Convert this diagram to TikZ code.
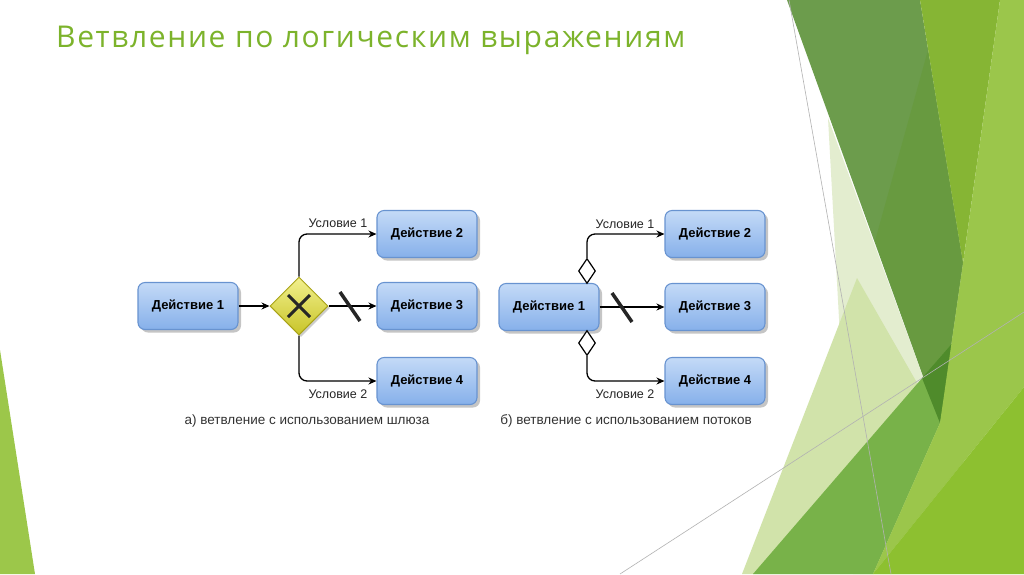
\documentclass[tikz,border=0pt]{standalone}
\usepackage{fontspec}
\setmainfont{Liberation Sans}
\newfontfamily\titlefont[LetterSpace=5.5]{Open Sans}
\usetikzlibrary{shapes.geometric,shadows,arrows.meta}

\definecolor{titlegreen}{HTML}{7CB32B}
\definecolor{boxtop}{HTML}{C4DAF7}
\definecolor{boxbot}{HTML}{86B0EA}
\definecolor{boxline}{HTML}{6893D0}
\definecolor{gwtop}{HTML}{F2F08E}
\definecolor{gwbot}{HTML}{C8C428}
\definecolor{gwline}{HTML}{A9A318}
\definecolor{palegreen}{HTML}{E3EDCF}
\definecolor{lightgreen}{HTML}{D1E3AA}
\definecolor{olivegreen}{HTML}{6C9C4C}
\definecolor{olivegreen2}{HTML}{689A40}
\definecolor{midgreen}{HTML}{78B249}
\definecolor{deepgreen}{HTML}{4F8B2B}
\definecolor{brightgreen}{HTML}{86B534}
\definecolor{stripgreen}{HTML}{9BC64B}
\definecolor{yellowgreen}{HTML}{8DC030}
\definecolor{leftgreen}{HTML}{9CC74A}

\tikzset{
  action/.style={rectangle, rounded corners=7pt, draw=boxline, line width=1.1pt,
    top color=boxtop, bottom color=boxbot, minimum width=100pt, minimum height=47pt,
    font=\bfseries\fontsize{13}{15}\selectfont,
    drop shadow={shadow xshift=3pt, shadow yshift=-3pt, fill=black!50, opacity=0.45}},
  gateway/.style={diamond, draw=gwline, line width=1pt, top color=gwtop, bottom color=gwbot,
    inner sep=0pt, minimum width=58pt, minimum height=58pt,
    drop shadow={shadow xshift=2pt, shadow yshift=-2pt, fill=black!50, opacity=0.4}},
  condmark/.style={diamond, draw=black, fill=white, line width=1.2pt, inner sep=0pt,
    minimum width=17pt, minimum height=25pt},
  flow/.style={line width=1.3pt, rounded corners=8pt, -{Stealth[length=8pt,width=7pt]}},
  slashmark/.style={line width=3.5pt, black!85},
  cond/.style={font=\fontsize{12.5}{14}\selectfont, text=black!85},
  caption/.style={font=\fontsize{13.5}{15}\selectfont, text=black!80},
  thinline/.style={black!30, line width=0.6pt}
}

\begin{document}
\begin{tikzpicture}[x=1pt, y=-1pt]
\useasboundingbox (0,0) rectangle (1024,574);
\fill[white] (0,0) rectangle (1024,574);

% Background facets
\fill[leftgreen] (0,350) -- (35,574) -- (0,574) -- cycle;
\fill[palegreen] (828,118) -- (940,423) -- (910,574) -- (853,574) -- cycle;
\fill[lightgreen] (857,278) -- (940,423) -- (1024,574) -- (742,574) -- cycle;
\fill[olivegreen] (787,0) -- (920,0) -- (963,263) -- (940,423) -- cycle;
\fill[olivegreen2] (928,50) -- (963,263) -- (940,423) -- (875,241) -- cycle;
\fill[midgreen] (753,574) -- (955,340) -- (940,423) -- (873,574) -- cycle;
\fill[deepgreen] (922,378) -- (955,340) -- (940,423) -- cycle;
\fill[brightgreen] (920,0) -- (1000,0) -- (963,263) -- cycle;
\fill[stripgreen] (1000,0) -- (1024,0) -- (1024,387) -- (873,574) -- (940,423) -- (963,263) -- cycle;
\fill[yellowgreen] (873,574) -- (1024,387) -- (1024,574) -- cycle;
\draw[thinline] (789,0) -- (891,574);
\draw[thinline] (620,574) -- (1024,312);

% Title
\node[anchor=base west, inner sep=0pt, text=titlegreen, font=\titlefont\fontsize{30}{34}\selectfont]
  (title) at (56,47) {Ветвление по логическим выражениям};

% a) branching with a gateway
\node[action] (a1) at (188,306) {Действие 1};
\node[gateway] (g) at (299,306) {};
\draw[line width=3pt, black!85] (g.center) +(-11,-11) -- +(11,11);
\draw[line width=3pt, black!85] (g.center) +(-11,11) -- +(11,-11);
\node[action] (a2) at (427,234) {Действие 2};
\node[action] (a3) at (427,306) {Действие 3};
\node[action] (a4) at (427,381) {Действие 4};

\draw[flow] (a1) -- (g);
\draw[flow] (g.north) |- (a2);
\draw[flow] (g) -- (a3);
\draw[flow] (g.south) |- (a4);
\draw[slashmark] (350,306) +(-10,-14) -- +(10,15);

\node[cond] (ca1) at (338,223) {Условие 1};
\node[cond] (ca2) at (338,394) {Условие 2};
\node[caption] (capa) at (307,421) {а) ветвление с использованием шлюза};

% b) branching with conditional flows
\node[action] (b1) at (549,307) {Действие 1};
\node[action] (b2) at (715,234) {Действие 2};
\node[action] (b3) at (715,307) {Действие 3};
\node[action] (b4) at (715,381) {Действие 4};
\node[condmark] (c1) at (587,271) {};
\node[condmark] (c2) at (587,343) {};

\draw[flow] (c1.north) |- (b2);
\draw[flow] (b1) -- (b3);
\draw[flow] (c2.south) |- (b4);
\draw[slashmark] (622,307) +(-10,-14) -- +(10,15);

\node[cond] (cb1) at (625,224) {Условие 1};
\node[cond] (cb2) at (625,394) {Условие 2};
\node[caption] (capb) at (626,421) {б) ветвление с использованием потоков};

\end{tikzpicture}
\end{document}
